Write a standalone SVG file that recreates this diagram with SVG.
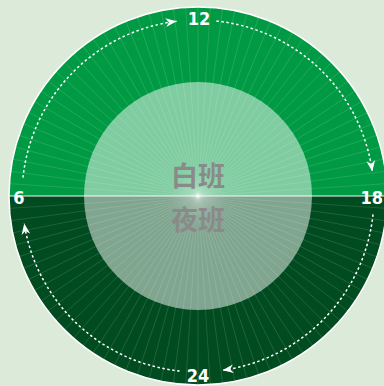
<svg xmlns="http://www.w3.org/2000/svg" xmlns:xlink="http://www.w3.org/1999/xlink" width="384" height="386" viewBox="0 0 384 386">
<style>
.num{font-family:"Liberation Sans Narrow","DejaVu Sans Condensed","Liberation Sans",sans-serif;font-weight:bold;font-size:18px;fill:#ffffff}
.cjk{font-family:"Noto Sans CJK SC","Noto Sans CJK JP",sans-serif;font-weight:bold;font-size:27px;fill:#8a8a8a;text-anchor:middle}
.arc{fill:none;stroke:#ffffff;stroke-width:1.5;stroke-dasharray:2.5 2.5;marker-end:url(#ah)}
.ray{stroke:#ffffff;stroke-opacity:0.2;stroke-width:0.6}
</style>
<defs>
<marker id="ah" viewBox="0 0 10 8" refX="10" refY="4" markerWidth="11" markerHeight="9" markerUnits="userSpaceOnUse" orient="auto">
<path d="M0,0 L10,4 L0,8 L3,4 Z" fill="#ffffff"/>
</marker>
<line id="d" x1="198" y1="7" x2="198" y2="385" class="ray"/>
<radialGradient id="ig" cx="198" cy="196" r="114" gradientUnits="userSpaceOnUse">
<stop offset="0" stop-color="#ffffff" stop-opacity="0.58"/>
<stop offset="0.25" stop-color="#ffffff" stop-opacity="0.5"/>
<stop offset="1" stop-color="#ffffff" stop-opacity="0.5"/>
</radialGradient>
<clipPath id="top"><rect x="0" y="0" width="384" height="196"/></clipPath>
<clipPath id="bot"><rect x="0" y="196" width="384" height="190"/></clipPath>
</defs>
<rect width="384" height="386" fill="#dcebd9"/>
<g id="dial">
<circle cx="198" cy="196" r="189" fill="#009a44" clip-path="url(#top)"/>
<circle cx="198" cy="196" r="189" fill="#004b20" clip-path="url(#bot)"/>
<g id="rays">
<use xlink:href="#d"/>
<use xlink:href="#d" transform="rotate(3.75 198 196)"/>
<use xlink:href="#d" transform="rotate(7.5 198 196)"/>
<use xlink:href="#d" transform="rotate(11.25 198 196)"/>
<use xlink:href="#d" transform="rotate(15 198 196)"/>
<use xlink:href="#d" transform="rotate(18.75 198 196)"/>
<use xlink:href="#d" transform="rotate(22.5 198 196)"/>
<use xlink:href="#d" transform="rotate(26.25 198 196)"/>
<use xlink:href="#d" transform="rotate(30 198 196)"/>
<use xlink:href="#d" transform="rotate(33.75 198 196)"/>
<use xlink:href="#d" transform="rotate(37.5 198 196)"/>
<use xlink:href="#d" transform="rotate(41.25 198 196)"/>
<use xlink:href="#d" transform="rotate(45 198 196)"/>
<use xlink:href="#d" transform="rotate(48.75 198 196)"/>
<use xlink:href="#d" transform="rotate(52.5 198 196)"/>
<use xlink:href="#d" transform="rotate(56.25 198 196)"/>
<use xlink:href="#d" transform="rotate(60 198 196)"/>
<use xlink:href="#d" transform="rotate(63.75 198 196)"/>
<use xlink:href="#d" transform="rotate(67.5 198 196)"/>
<use xlink:href="#d" transform="rotate(71.25 198 196)"/>
<use xlink:href="#d" transform="rotate(75 198 196)"/>
<use xlink:href="#d" transform="rotate(78.75 198 196)"/>
<use xlink:href="#d" transform="rotate(82.5 198 196)"/>
<use xlink:href="#d" transform="rotate(86.25 198 196)"/>
<use xlink:href="#d" transform="rotate(90 198 196)"/>
<use xlink:href="#d" transform="rotate(93.75 198 196)"/>
<use xlink:href="#d" transform="rotate(97.5 198 196)"/>
<use xlink:href="#d" transform="rotate(101.25 198 196)"/>
<use xlink:href="#d" transform="rotate(105 198 196)"/>
<use xlink:href="#d" transform="rotate(108.75 198 196)"/>
<use xlink:href="#d" transform="rotate(112.5 198 196)"/>
<use xlink:href="#d" transform="rotate(116.25 198 196)"/>
<use xlink:href="#d" transform="rotate(120 198 196)"/>
<use xlink:href="#d" transform="rotate(123.75 198 196)"/>
<use xlink:href="#d" transform="rotate(127.5 198 196)"/>
<use xlink:href="#d" transform="rotate(131.25 198 196)"/>
<use xlink:href="#d" transform="rotate(135 198 196)"/>
<use xlink:href="#d" transform="rotate(138.75 198 196)"/>
<use xlink:href="#d" transform="rotate(142.5 198 196)"/>
<use xlink:href="#d" transform="rotate(146.25 198 196)"/>
<use xlink:href="#d" transform="rotate(150 198 196)"/>
<use xlink:href="#d" transform="rotate(153.75 198 196)"/>
<use xlink:href="#d" transform="rotate(157.5 198 196)"/>
<use xlink:href="#d" transform="rotate(161.25 198 196)"/>
<use xlink:href="#d" transform="rotate(165 198 196)"/>
<use xlink:href="#d" transform="rotate(168.75 198 196)"/>
<use xlink:href="#d" transform="rotate(172.5 198 196)"/>
<use xlink:href="#d" transform="rotate(176.25 198 196)"/>
</g>
<circle cx="198" cy="196" r="189" fill="none" stroke="#ffffff" stroke-width="1.5"/>
<line x1="9" y1="196" x2="387" y2="196" stroke="#ffffff" stroke-width="1.2" stroke-opacity="0.9"/>
</g>
<g id="core">
<circle cx="198" cy="196" r="114" fill="url(#ig)"/>
</g>
<g id="day"><text class="cjk" x="198" y="186">白班</text></g>
<g id="night"><text class="cjk" x="198" y="230">夜班</text></g>
<g id="connectors">
<path class="arc" d="M23.0,177.6 A176,176 0 0 1 176.6,21.3"/>
<path class="arc" d="M216.4,21.0 A176,176 0 0 1 372.3,171.5"/>
<path class="arc" d="M373.0,214.4 A176,176 0 0 1 222.5,370.3"/>
<path class="arc" d="M179.6,371.0 A176,176 0 0 1 24.2,223.5"/>
</g>
<g id="labels">
<text class="num" x="199" y="25" text-anchor="middle">12</text>
<text class="num" x="383" y="204" text-anchor="end">18</text>
<text class="num" x="198" y="382" text-anchor="middle">24</text>
<text class="num" x="19" y="204" text-anchor="middle">6</text>
</g>
</svg>
